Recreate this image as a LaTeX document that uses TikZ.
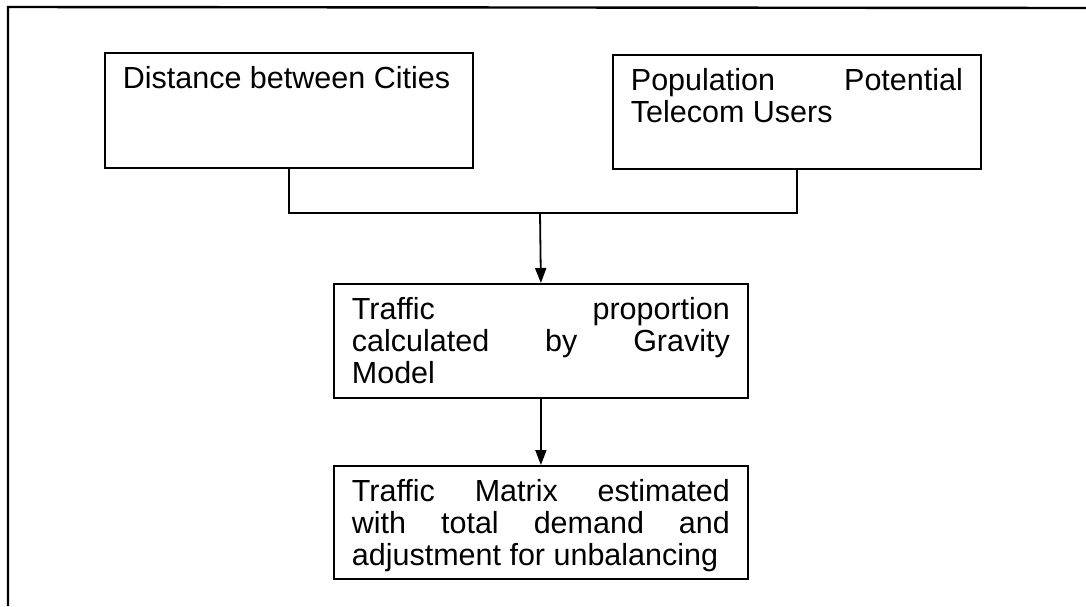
\documentclass[tikz,border=0pt]{standalone}
\usepackage{fontspec}
\setmainfont{Liberation Sans}
\usetikzlibrary{arrows.meta}

% text block of fixed size, set from the top
\newcommand{\boxtext}[3]{\parbox[c][#2][t]{#1}{#3}}
% a full-width line with its spaces stretched
\newcommand{\spreadline}[2]{\makebox[#1][s]{#2}}

\tikzset{
  boxnode/.style={draw, line width=1.8pt, inner xsep=18pt, inner ysep=13pt,
    anchor=north west, font=\fontsize{30.5}{32}\selectfont},
  link/.style={line width=1.8pt},
  arrowlink/.style={link, -{Triangle[length=15pt,width=11pt]}},
  frameline/.style={line width=2.4pt},
}

\begin{document}
\begin{tikzpicture}[x=1pt, y=-1pt]
  \useasboundingbox (0,0) rectangle (1086,606);

  % page frame (top and left edges)
  \draw[frameline] (8,606) -- (8,7) -- (1086,8);

  % input boxes
  \node[boxnode] (dist) at (104,52)
    {\boxtext{332pt}{89pt}{Distance between Cities}};
  \node[boxnode] (pop) at (612,54)
    {\boxtext{332pt}{88pt}{\spreadline{332pt}{Population Potential}\\Telecom Users}};

  % model step
  \node[boxnode] (prop) at (333,283)
    {\boxtext{378pt}{88pt}{\spreadline{378pt}{Traffic proportion}\\
      \spreadline{378pt}{calculated by Gravity}\\Model}};

  % result
  \node[boxnode] (matrix) at (333,465)
    {\boxtext{378pt}{87pt}{\spreadline{378pt}{Traffic Matrix estimated}\\
      \spreadline{378pt}{with total demand and}\\adjustment for unbalancing}};

  % connectors
  \coordinate (join) at (540,213);
  \draw[link] (dist.south) |- (join) -| (pop.south);
  \draw[arrowlink] (join) -- (prop.north);
  \draw[arrowlink] (prop.south) -- (matrix.north);
\end{tikzpicture}
\end{document}
